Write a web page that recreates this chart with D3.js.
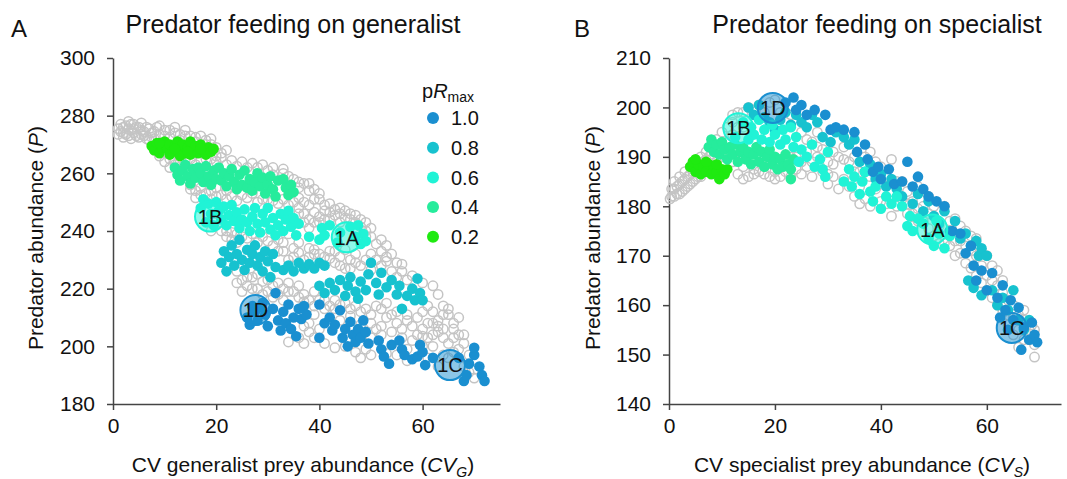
<!DOCTYPE html>
<html>
<head>
<meta charset="utf-8">
<script src="https://cdn.jsdelivr.net/npm/d3@7"></script>
<style>
  body { margin: 0; background: #fff; }
  svg text { font-family: "Liberation Sans", Arial, sans-serif; fill: #111; }
</style>
</head>
<body>
<svg id="chart" width="1067" height="479"></svg>
<script>
// ---- data ----
const levels = ['1.0', '0.8', '0.6', '0.4', '0.2'];
const xTicks = [0, 20, 40, 60];
const yTicksA = [180, 200, 220, 240, 260, 280, 300];
const yTicksB = [140, 150, 160, 170, 180, 190, 200, 210];

// Panel A: predator feeding on generalist  [CV_G, P]
const grayA = [[1.5,274.5],[2,276],[2.5,273.5],[3,275.5],[3.5,277],[4,274],[4.5,276],[5,272.5],[5.5,275],[6,273],[6.5,276],[7,271.5],[7.5,274],[8,272],[8.5,276],[9,273.5],[10,275],[11,272.5],[12,274],[13,271.5],[14,273],[15,270.5],[16,272.5],[17,269.5],[18,271.5],[19,270],[3,273],[4,275.5],[5.5,273.5],
  [1,275.5],[1.5,277],[2,274],[2.5,276.5],[3,278],[3.5,275],[4,277],[4.5,273],[5,276],[5.5,277.5],[6,274.5],[6.5,272],[7,275.5],[7.5,272.5],[8,274.5],[1,273.5],[2,272.5],[3.5,272],[9,276.5],[10,273],[11,275],[12,276],[13,273.5],[14,275],[15,273],[16,271],[17,273],[18,270],[19,272],[20,269],[21,267],[22,268],[20,266],[19,265],[17,264.5],[15,265],[13,264.5],[11,265],[9,266],[8,268],[10,267],[12,263],
  [10,264],[11,262],[12,265],[14,264.5],[16,263],[18,265],[20,264],[21,265.5],[22,263],[23,264.5],[24,262.5],[25,264],[26,262],[27,263.5],[28,262],[30,261],[31,259.5],[33,260],[35,258],[36,255],[37,256.5],[38,254],[39,251],[40,253],[36,251.5],[38,249],
  [29,263],[31,262],[33,261.5],[34,259],[36,257],[38,256.5],[39,254.5],[40,251],[41,249],[42,249.5],[43,247.5],[44,248],[46,244],[48,241.5],[49,238],
  [15,256],[16,254],[17,252.5],[18,253],[19,251],[20,252],[22,251],[24,250.5],[26,251.5],[28,250],[30,251],[32,249.5],[34,249],[36,248],[37,246],[38,244],[39,246.5],[40,245],[41,247],[42,244],[43,245.5],[44,243],[45,244.5],[46,246],[47,243],[48,244],[49,240],[50,238],[51,235.5],[52,233],[53,231],[36,236],[38,234],[39,232],[42,233],[44,231],[45,233.5],[46,230],[47,232],[43,229],[45,227],[48,228],[50,226.5],[52,228],[54,226],[55,224],[56,226],[57,223],[58,224.5],[60,222],[62,221],[63,218],[64,214],[65,211],[66,208],[67,210],[63,209],[62,212],[64,206],[66,203],[68,204],[65,201],
  [15,254.5],[16,251.5],[17,255],[18,250],[19,254],[20,255],[21,252.5],[22,254],[23,252],[25,252.5],[27,253],[29,251],[31,250.5],[33,251],[35,250],[37,250],[36,246],[37,243],[38,241],[39,243],[40,243],[41,244],[42,246.5],[44,246],[45,247],[47,245.5],[49,243],[50,241],[52,237],[53,235],[54,232],[55,229],[56,228.5],
  [21,240],[22,238],[23,239.5],[24,236],[25,238],[26,237.5],[27,239],[28,236],[29,238],[30,236.5],[31,235],[32,237],[33,233],[35,231],[36,232.5],[37,230],[38,231],[39,233.5],[40,232],[41,231],[42,230.5],[43,233],[44,228],[46,227],[47,229],[49,230],[50,232],[51,230],[53,229.5],
  [24,226],[25,223],[26,221],[27,224],[28,220],[29,222.5],[30,219],[31,221],[32,218],[33,220],[34,222],[35,219],[36,221],[37,218],[38,216],[39,219],[40,216],[42,214],[43,216],[44,214.5],[46,213],[48,212],[50,211],[52,213],[53,210],[54,211],[55,208],[56,206],[57,209],[58,207],[59,204],[60,206],[61,203],[34,230],[32,233],[33,236],[34,239],[35,234],[22,240],[23,237],[24,239],[21,243],[20,246],[19,240],
  [24,222],[25,219],[26,224],[27,220],[28,225],[29,218],[30,223],[31,217],[32,222],[33,216],[34,219],[36,217],[37,215.5],[39,214],[41,213],[41,216],[43,213],[45,215],[47,214],[49,213],[51,214],[53,215],[55,212],[57,211],[59,210],[60,212],[61,214],[62,208],[63,207],[64,211],[65,213],[66,206],[67,204],[64,203],[62,204],[60,203.5],[58,202],[56,203],[54,205],[52,207],[50,208],[48,207.5],[46,210.5],[44,209],[38,208],[39,211],[37,207],
  [36,203],[38,205],[40,206],[45,200],[47,198],[49,199],[50,203],[51,206],[52,204],[55,197],[57,199],[60,200],[62,200],[64,197],[66,198],[69,191],[70,189],[63,205],[61,208],
  [34,201.5],[37,201],[39,203],[41,201],[43,199.5],[48,196],[50,197],[53,197.5],[57,195],[61,196],[63,193],[65,196],[67,199],[68,201],[69,197],[70,192],[68,193]];

const a10 = [[26,210],[26.5,207.5],[27,214],[27.5,212],[28,209],[28.5,213.5],[29,215],[29.5,211],[30,207],[31,213],[31.5,218.5],[32,209],[32.5,205.5],[33,212],[33.5,208],[34,214.5],[34.5,206],[35,210],[35.5,203.5],[36,213],[36.5,209.5],[37,214],[37.5,211],
  [40,214.5],[40,203],[41,208],[42,210],[42.5,205.5],[43,207.5],[44,212.5],[44.5,203],[45,206],[45.5,200],[46,208.5],[46.5,204],[47,201.5],[47.5,206],[48,203],[48.5,209],[49,205],[49.5,201],
  [51.5,202],[52,199],[52.5,196.5],[53.5,194],[54,200.5],[55.5,202],[56,199],[56.5,197],[58,195.5],[59,196.5],[59.5,200.5],[60,198],[60.5,193.5],[62,196],[67,196],[68,188],[68.5,190],[69,194],[70,197],[70,199.5],[71,193],[71.5,190],[72,188]];
const a08 = [[21,229],[21.5,233],[22,226],[22.5,231],[23,235],[23.5,228],[24,232],[24.5,237],[25,230],[25.5,226.5],[26,233.5],[26.5,229],[27,232],[27.5,235],[28,228],[28.5,231],[29,226],[29.5,233],[30,229.5],[30.5,224],[31,232],[31.5,227.5],
  [33,226.5],[34,228],[35,226],[36,229],[37,227],[38,228.5],[39,227],[40,229],[41,228],
  [40,221],[41,218.5],[42,222],[43,219.5],[44,223],[45,217.5],[45.5,221],[46,224],[47,219],[47.5,216.5],[48,222.5],[49,219.5],[49.5,225],[50,229],[51,222],[51.5,218],[52,225.5],[53,220.5],[54,223],[55,218],[55.5,221],[56,213],[57,217.5],[58,220],[58.5,216],[59,223.5],[59.5,218.5],[60,216]];
const a06 = [[17,248],[17.5,251],[18,243],[18.5,249.5],[19,246],[19.5,242],[20,250],[20.5,247],[21,244],[21.5,248.5],[22,242],[22.5,245.5],[23,249],[23.5,243.5],[24,246.5],[24.5,241],[25,244],[25.5,247.5],[26,243],[26.5,240],[27,245],[27.5,248],[28,242.5],[28.5,239.5],[29,246],[29.5,243],[30,248],[30.5,240.5],[31,244.5],[31.5,238.5],[32,242],[32.5,246],[33,240],[33.5,244],[34,247],[34.5,241.5],[35,244.5],[35.5,238.5],[36,242.5],
  [38,238],[40,237],[40.5,241],[41,238.5],[42,242],[43.5,236],[44,239.5],[46,241.5],[47,238],[47.5,242],[48,235.5],[48.5,239],[49,236.5]];
const a04 = [[12,262],[12.5,259.5],[13,257.5],[13.5,261],[14,263],[14.5,259],[15,256.5],[15.5,261.5],[16,258.5],[16.5,262],[17,260],[17.5,257],[18,262.5],[18.5,259],[19,256],[19.5,261],[20,258],[20.5,262],[21,257.5],[21.5,260],[22,255.5],[22.5,259],[23,261.5],[23.5,257],[24,254.5],[24.5,259.5],[25,256],[25.5,261],[26,255],[26.5,258],[27,254],[27.5,257],[28,260],[28.5,255.5],[29,258.5],[29.5,253],[30,256],[30.5,259],[31,254.5],[31.5,252],[32,257.5],[33,258],[33.5,255],[34,252.5],[34.5,256],[35,253.5]];
const a02 = [[7.5,269.5],[8,268],[8.5,270.5],[9,267],[9.5,269],[10,271],[10.5,268.5],[11,270],[11.5,267.5],[12,269.5],[12.5,271],[13,268],[13.5,270],[14,267],[14.5,269],[15,271],[15.5,268],[16,269.5],[16.5,267],[17,270],[17.5,268],[18,266.5],[18.5,269],[19,267.5],[19.5,268.5],[11,266.5],[13,266],[15,266.5],[9,270.5],[12,268.5],[14.5,267.5],[17,268.5]];
const markLabelsA = ['1A', '1B', '1C', '1D'];
const markLevelsA = ['0.6', '0.6', '1.0', '1.0'];
const markPosA = [[45.3, 237.8], [18.8, 245], [65.3, 193.5], [27.6, 212.6]];

// Panel B: predator feeding on specialist  [CV_S, P]
const grayB = [[0.5,182],[1,183.5],[1.5,182.5],[2,184.5],[2.5,183],[3,185.5],[3.5,184],[4,186.5],[4.5,185],[5,187.5],[5.5,186],[6,188.5],[7,189.5],[8,190.5],[9,191],[10,192],[11,193],[12,194.5],[13,196],[12,198.5],[14,199],[15,200],[16,199.5],[17,200.5],[13,186.5],[14,188],[16,187.5],[18,186.5],[20,187],[21,188.5],[22,187],[24,187.5],[23,190],[25,189],[26,191],[27,189],[27,193],[28,195],[28,190],[29,187],[30,184.5],[30,189],[31,191],[31,186],[32,183.5],[32,190],[33,192],[34,189],[35,182],[35,187],[36,184],[37,190],[37,181.5],[38,186],[38,191],[39,183.5],[40,188],[40,181],[41,186],[42,189.5],[42,183],[43,180],[44,185],[45,183],[45,178.5],[46,181],[47,184],[47,177],[48,180],[49,182],[50,178],[50,174],[51,176],[52,180],[52,172.5],[53,175],[54,177.5],[54,170],[55,173],[56,175],[56,168.5],[57,171],[58,173.5],[58,166],[59,168],[60,170],[60,163],[61,165],[62,167],[62,160],[63,162.5],[64,158],[65,160],[66,155],[67,157],[68,153],[68.5,156],[69,149.5],[66,151.5],
  [0.2,181.5],[0.5,183.5],[1,182],[1,185],[1.5,184],[2,182.5],[2,186],[2.5,185],[3,183.5],[3,187],[3.5,186],[4,184.5],[4,188],[4.5,187],[5,185.5],[5,189],[5.5,188],[6,186],[6,190],[6.5,189],[7,187],[7,191],[7.5,190],[8,188],[8,192],[9,189],[9,193.5],[10,190],[10,195],[11,191],[11,196],[12,189],[13,191],[12,197],[13,199],[14,196],[14,185.5],[15,186],[16,186.5],[17,187],[18,188],[19,186],[20,185.5],[21,186],[22,189],[23,186],[24,190],[25,186.5],[26,188],[27,186],[18,199],[19,201],[20,201.5],[21,199],[22,197],[23,198.5],[25,195],[26,193.5],[28,192],[29,191.5],[30,186.5],[31,188.5],[33,189.5],[33,185.5],[34,184],[35,190],[36,187],[36,180.5],[38,180],[39,189],[41,180.5],[42,178],[43,185],[44,181.5],[45,180.5],[46,178.5],[46,176],[47,179.5],[48,177],[49,175.5],[49,178.5],[50,180],[51,172.5],[53,172],[53,177],[54,173],[55,170.5],[55,176],[56,172],[57,167.5],[57,174],[58,170],[59,164.5],[59,171],[60,166],[61,161.5],[61,168],[62,164],[63,158.5],[63,165],[64,161],[64,156],[65,157.5],[65,154],[66,158],[67,153],[67,159],[68,155],[69,152],[69,155]];
const b10 = [[22,201],[23.5,202],[24,199.5],[25,200.5],[26,198.5],[27.5,199.5],[29.5,198.5],[30.5,195.5],[31.5,196],[33,195.5],[35,195],[35.5,191],[37,192.5],[37.5,189.5],[38.5,187],[39.5,188],[40,185.5],[41.5,187.5],[42.5,184.5],[44,185],[45,189],[46,184],[47,186],[48,183.5],[49,182],[50.5,181],[52,180],[53.5,175],[55,174.5],[56,170.5],[57,172],[57.5,168],[58,165],[59,167],[60,163],[61,166.5],[62,161.5],[63,164],[63.5,159],[64.5,161],[65,157],[66,159.5],[66.5,151],[67,155.5],[68,153],[68.5,156.5],[69,154],[69.5,152.5],[64,155],[62.5,157.5]];
const b08 = [[15,200],[16,198.5],[17,200.5],[18,198],[19,197],[20,195.5],[21,197.5],[22,199],[23,196.5],[24,198.5],[25,197],[26,196],[27,198.5],[28,197],[29,194],[30.5,193],[31.5,195],[33,194],[34,192.5],[35,193.5],[36,189],[37,187],[38,188.5],[39,185.5],[40,186.5],[41,184],[42,185.5],[43,183.5],[44,182],[46,180.5],[47,182.5],[48,179],[49,181],[50,178],[51,176.5],[52,179],[53,175],[54,177],[55,173.5],[56,174.5],[57,172],[58,173],[58.5,170],[59,171.5],[60,170],[56.5,165],[57.5,163.5],[59,162],[61,163],[62,160],[63,161.5],[64,159],[65,163],[66,157],[67,155],[68,157]];
const b06 = [[12.5,194],[14,197],[15,193.5],[15.5,196],[16,194.5],[17,197.5],[17.5,193.5],[18,195.5],[19,193],[19.5,196.5],[20,194.5],[21,192.5],[21.5,195.5],[22,193.5],[23,196],[23.5,192],[24,194],[24.5,189],[25,191.5],[26,190],[27,192.5],[27.5,188],[28.5,189.5],[29,187.5],[30,191],[29.5,186],
  [33,185],[34,187.5],[34.5,184],[35,186],[36,182.5],[36.5,185],[37,187],[38,183],[38.5,181],[39,184],[40,179.5],[41,182],[42,180.5],[43,182],[44,180],[45,176],[45.5,178],[46,175],[47,177.5],[48,176.5],[49,173.5],[50,172],[50.5,177],[51,174.5],[52,171.5],[53,174]];
const b04 = [[7.5,192],[8,193.5],[8.5,191],[9,192.5],[9.5,190.5],[10,193],[10.5,191.5],[11,189.5],[11.5,192],[12,190.5],[12.5,192.5],[13,189],[13.5,191],[14,192],[14.5,189.5],[15,191],[15.5,188.5],[16,190.5],[16.5,192],[17,189],[17.5,191],[18,188],[18.5,190],[19,191.5],[19.5,188.5],[20,190],[20.5,187.5],[21,189.5],[21.5,188],[22,190.5],[22.5,188.5],[23,187.5],[23.5,189.5],[23,185.5]];
const b02 = [[4,188],[4.5,189],[5,187],[5.5,188.5],[6,186.5],[6.5,188],[7,187],[7.5,188.5],[8,186.5],[8.5,188],[9,187],[9.5,185.5],[10,187.5],[10.5,186.5],[11,187.5],[5,189.5],[7,189],[9,188.5]];
const markLabelsB = ['1A', '1B', '1C', '1D'];
const markLevelsB = ['0.6', '0.6', '1.0', '1.0'];
const markPosB = [[49.7, 175.3], [13.1, 195.8], [64.7, 155.4], [19.6, 199.9]];

// ---- drawing ----
const svg = d3.select('#chart');
const color = d3.scaleOrdinal()
  .domain(levels)
  .range(['#1a8fd0', '#17c2cf', '#20f3d6', '#26ec9c', '#1fea10']);

function drawPanel(cfg) {
  const x = d3.scaleLinear().domain([0, cfg.xMax]).range([cfg.left, cfg.right]);
  const y = d3.scaleLinear().domain(cfg.yDomain).range([cfg.bottom, cfg.top]);
  const g = svg.append('g');

  // axes
  const xAxis = g.append('g')
    .attr('transform', `translate(0,${cfg.bottom})`)
    .call(d3.axisBottom(x).tickValues(xTicks).tickSize(6).tickPadding(8).tickSizeOuter(0));
  const yAxis = g.append('g')
    .attr('transform', `translate(${cfg.left},0)`)
    .call(d3.axisLeft(y).tickValues(cfg.yTicks).tickSize(6).tickPadding(12).tickSizeOuter(0));
  [xAxis, yAxis].forEach(ax => {
    ax.select('.domain').attr('stroke', '#444').attr('stroke-width', 1.5);
    ax.selectAll('.tick line').attr('stroke', '#444').attr('stroke-width', 1.5);
    ax.selectAll('.tick text').style('font-size', '21px').attr('fill', '#111')
      .style('font-family', '"Liberation Sans", Arial, sans-serif');
  });

  // gray open circles (other runs)
  g.append('g').selectAll('circle')
    .data(cfg.gray)
    .enter().append('circle')
    .attr('cx', d => x(d[0]))
    .attr('cy', d => y(d[1]))
    .attr('r', 4.7)
    .attr('fill', 'none')
    .attr('stroke', '#c4c4c4')
    .attr('stroke-width', 1.5);

  // coloured series
  cfg.series.forEach(s => {
    g.append('g').selectAll('circle')
      .data(s.pts)
      .enter().append('circle')
      .attr('cx', d => x(d[0]))
      .attr('cy', d => y(d[1]))
      .attr('r', 5.3)
      .attr('fill', color(s.level));
  });

  // highlighted runs
  const marks = g.selectAll('.mark')
    .data(cfg.markLabels.map((lab, i) => ({ lab, level: cfg.markLevels[i], p: cfg.markPos[i] })))
    .enter().append('g')
    .attr('class', 'mark')
    .attr('transform', d => `translate(${x(d.p[0])},${y(d.p[1])})`);
  marks.append('circle')
    .attr('r', 15)
    .attr('fill', d => color(d.level))
    .attr('fill-opacity', 0.5)
    .attr('stroke', d => color(d.level))
    .attr('stroke-width', 2);
  marks.append('text')
    .attr('text-anchor', 'middle')
    .attr('dy', '0.36em')
    .style('font-size', '20px')
    .text(d => d.lab);

  // title and panel letter
  g.append('text')
    .attr('x', cfg.titleX).attr('y', 33)
    .attr('text-anchor', 'middle')
    .style('font-size', '25px')
    .text(cfg.title);
  g.append('text')
    .attr('x', cfg.letterX).attr('y', 37)
    .style('font-size', '24px')
    .text(cfg.letter);

  // y label
  const yl = g.append('text')
    .attr('transform', `translate(${cfg.yLabelX},${(cfg.top + cfg.bottom) / 2 + 7}) rotate(-90)`)
    .attr('text-anchor', 'middle')
    .style('font-size', '21px');
  yl.append('tspan').text('Predator abundance (');
  yl.append('tspan').style('font-style', 'italic').text('P');
  yl.append('tspan').text(')');

  // x label
  const xl = g.append('text')
    .attr('x', cfg.xLabelX).attr('y', 472)
    .attr('text-anchor', 'middle')
    .style('font-size', '21px');
  xl.append('tspan').text(cfg.xLabel + ' (');
  xl.append('tspan').style('font-style', 'italic').text('CV');
  xl.append('tspan').style('font-style', 'italic').style('font-size', '14px').attr('dy', 5).text(cfg.sub);
  xl.append('tspan').attr('dy', -5).text(')');

  return { x, y, g };
}

drawPanel({
  letter: 'A', letterX: 11, title: 'Predator feeding on generalist', titleX: 293,
  left: 113, right: 500, top: 58, bottom: 404, xMax: 75,
  yDomain: [180, 300], yTicks: yTicksA, yLabelX: 43,
  xLabel: 'CV generalist prey abundance', sub: 'G', xLabelX: 303,
  gray: grayA,
  series: [{ level: '0.2', pts: a02 }, { level: '0.4', pts: a04 }, { level: '0.8', pts: a08 },
           { level: '0.6', pts: a06 }, { level: '1.0', pts: a10 }],
  markLabels: markLabelsA, markLevels: markLevelsA, markPos: markPosA
});

drawPanel({
  letter: 'B', letterX: 574, title: 'Predator feeding on specialist', titleX: 877,
  left: 669, right: 1061, top: 58, bottom: 404, xMax: 74,
  yDomain: [140, 210], yTicks: yTicksB, yLabelX: 600,
  xLabel: 'CV specialist prey abundance', sub: 'S', xLabelX: 862,
  gray: grayB,
  series: [{ level: '0.2', pts: b02 }, { level: '0.4', pts: b04 }, { level: '0.8', pts: b08 },
           { level: '0.6', pts: b06 }, { level: '1.0', pts: b10 }],
  markLabels: markLabelsB, markLevels: markLevelsB, markPos: markPosB
});

// legend (panel A)
const legend = svg.append('g').attr('transform', 'translate(433,0)');
const lt = legend.append('text').attr('x', -11).attr('y', 98).style('font-size', '20px');
lt.append('tspan').text('p');
lt.append('tspan').style('font-style', 'italic').text('R');
lt.append('tspan').style('font-size', '14px').attr('dy', 4).text('max');
const items = legend.selectAll('.item')
  .data(levels)
  .enter().append('g')
  .attr('class', 'item')
  .attr('transform', (d, i) => `translate(0,${118 + i * 29.7})`);
items.append('circle').attr('r', 6).attr('fill', d => color(d));
items.append('text').attr('x', 18).attr('dy', '0.36em').style('font-size', '20px').text(d => d);
</script>
</body>
</html>
